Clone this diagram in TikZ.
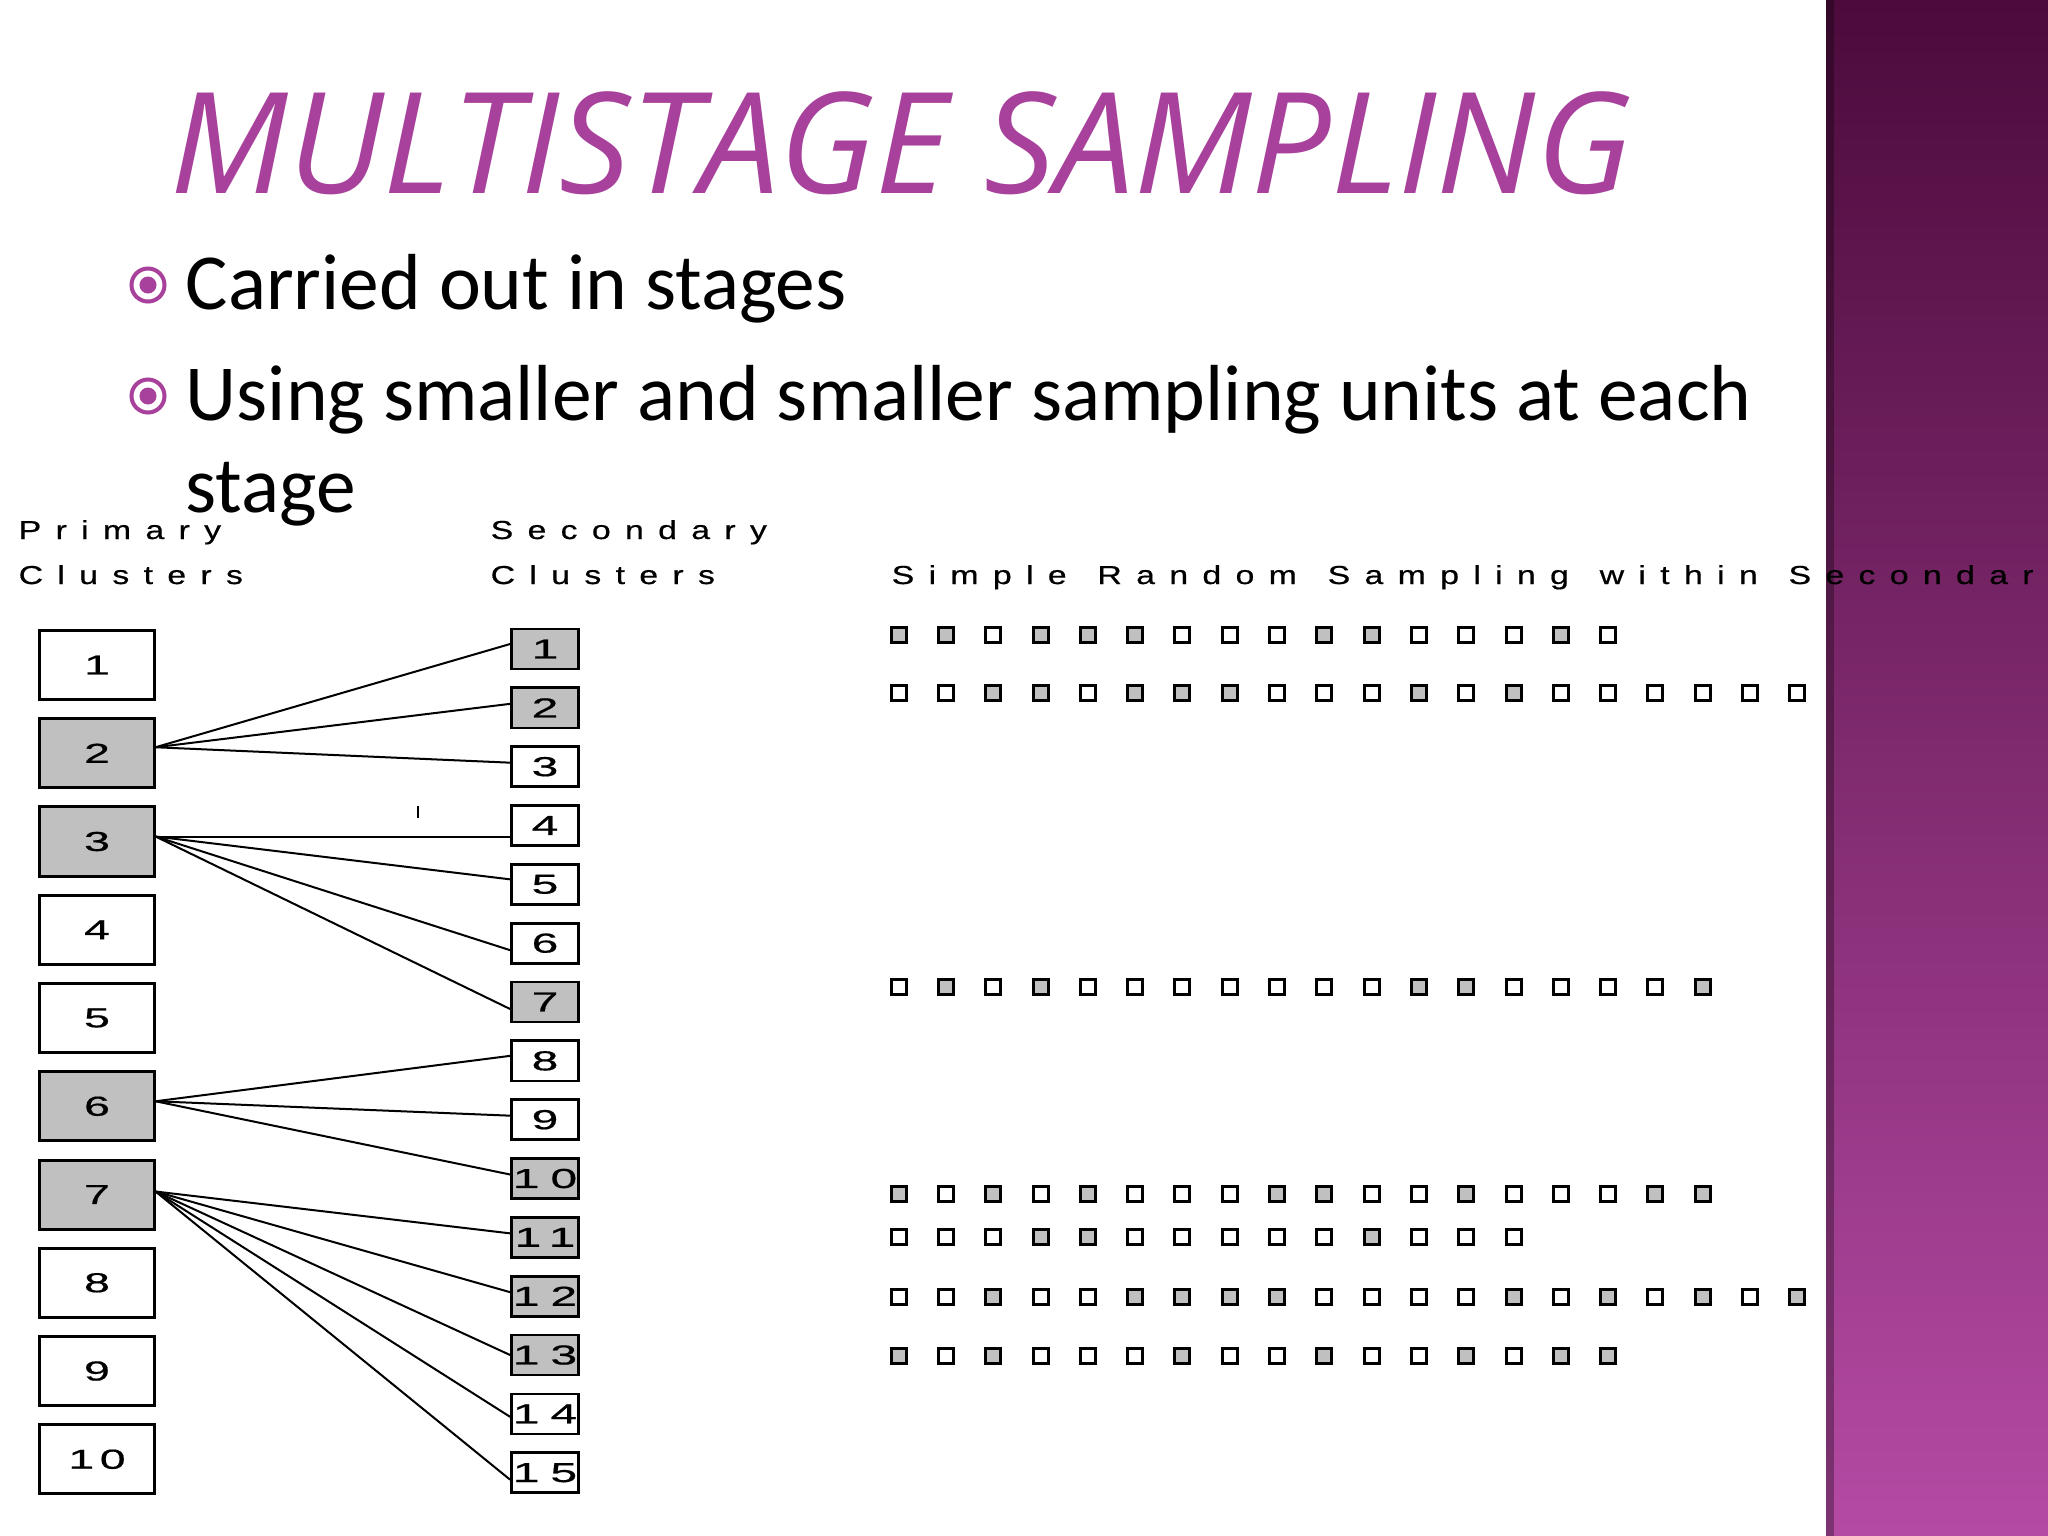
\documentclass[tikz,border=0pt]{standalone}
\usepackage{fontspec}
\setmainfont{Carlito}
\newfontfamily\titlefont{Open Sans}
\newfontfamily\labelfont[FakeStretch=1.3,LetterSpace=55,WordSpace=1.3,FakeBold=0.6]{Liberation Sans}
\newfontfamily\digitfont[FakeStretch=1.7,LetterSpace=20,FakeBold=0.6]{Liberation Sans}
\newfontfamily\widedigitfont[FakeStretch=1.75,LetterSpace=40,FakeBold=0.6]{Liberation Sans}
\usetikzlibrary{positioning}
\definecolor{slidepurple}{HTML}{A8419B}
\definecolor{bandtop}{HTML}{4C0B3C}
\definecolor{bandmid}{HTML}{7E2E70}
\definecolor{bandbot}{HTML}{B54AA4}
\definecolor{pickgrey}{HTML}{C0C0C0}

\begin{document}
\begin{tikzpicture}[x=0.01cm, y=-0.01cm, node distance={8.82mm},
    primbox/.style = {draw, line width=0.03cm, minimum width=1.14cm, minimum height=0.69cm, inner sep=0pt, font=\digitfont\fontsize{7.8pt}{9pt}\selectfont},
    secbox/.style = {draw, line width=0.027cm, minimum width=0.67cm, minimum height=0.40cm, inner sep=0pt, font=\widedigitfont\fontsize{7.8pt}{9pt}\selectfont},
    chosen/.style = {fill=pickgrey},
    link/.style = {line width=0.02cm},
    unit/.style = {draw, line width=0.03cm, minimum size=0.15cm, inner sep=0pt},
    u0/.style = {unit, fill=white},
    u1/.style = {unit, fill=pickgrey},
    head/.style = {anchor=base west, inner sep=0pt, font=\labelfont\fontsize{7.4pt}{9pt}\selectfont},
    bulletmark/.style = {circle, draw=slidepurple, line width=0.04cm, minimum size=0.33cm, inner sep=0pt,
        path picture={\fill[slidepurple] (path picture bounding box.center) circle (0.085cm);}},
    bullettext/.style = {anchor=base west, inner sep=0pt, align=left, font=\fontsize{22.6pt}{25.9pt}\selectfont}]
\path[use as bounding box] (0,0) rectangle (2048,1536);
\begin{scope}
\clip (0,0) rectangle (2048,1536);
\fill[white] (0,0) rectangle (2048,1536);
% side band
\shade[top color=bandtop, middle color=bandmid, bottom color=bandbot] (1826,0) rectangle (2048,1536);
\fill[black, opacity=0.3] (1826,0) rectangle (1834,1536);

% title and bullets
\node[anchor=base west, inner sep=0pt, text=slidepurple, font=\titlefont\itshape\fontsize{40pt}{44pt}\selectfont] (title) at (170,193) {MULTISTAGE SAMPLING};
\node[bulletmark] (b1) at (148,285) {};
\node[bullettext] (t1) at (185,309) {Carried out in stages};
\node[bulletmark] (b2) at (148,396) {};
% base of a two-line node is its last line
\node[bullettext] (t2) at (185,512) {Using smaller and smaller sampling units at each\\stage};

% headings
\node[head] (h1) at (18,539) {Primary};
\node[head] (h2) at (18,584) {Clusters};
\node[head] (h3) at (490,539) {Secondary};
\node[head] (h4) at (490,584) {Clusters};
\node[head] (h5) at (891,584) {Simple Random Sampling within Secondary};

% primary clusters
\node[primbox] (p1) at (97,665) {1};
\node[primbox, chosen] (p2) [below of=p1] {2};
\node[primbox, chosen] (p3) [below of=p2] {3};
\node[primbox] (p4) [below of=p3] {4};
\node[primbox] (p5) [below of=p4] {5};
\node[primbox, chosen] (p6) [below of=p5] {6};
\node[primbox, chosen] (p7) [below of=p6] {7};
\node[primbox] (p8) [below of=p7] {8};
\node[primbox] (p9) [below of=p8] {9};
\node[primbox] (p10) [below of=p9] {10};

% secondary clusters
\begin{scope}[node distance={5.88mm}]
\node[secbox, chosen] (s1) at (545,649) {1};
\node[secbox, chosen] (s2) [below of=s1] {2};
\node[secbox] (s3) [below of=s2] {3};
\node[secbox] (s4) [below of=s3] {4};
\node[secbox] (s5) [below of=s4] {5};
\node[secbox] (s6) [below of=s5] {6};
\node[secbox, chosen] (s7) [below of=s6] {7};
\node[secbox] (s8) [below of=s7] {8};
\node[secbox] (s9) [below of=s8] {9};
\node[secbox, chosen] (s10) [below of=s9] {10};
\node[secbox, chosen] (s11) [below of=s10] {11};
\node[secbox, chosen] (s12) [below of=s11] {12};
\node[secbox, chosen] (s13) [below of=s12] {13};
\node[secbox] (s14) [below of=s13] {14};
\node[secbox] (s15) [below of=s14] {15};
\end{scope}

% fan-out points, a little above the box middles
\coordinate (f2) at ([yshift=0.06cm]p2.east);
\coordinate (f3) at ([yshift=0.05cm]p3.east);
\coordinate (f6) at ([yshift=0.05cm]p6.east);
\coordinate (f7) at ([yshift=0.03cm]p7.east);
\draw[link] (f2) -- ([yshift=0.05cm]s1.west);
\draw[link] (f2) -- ([yshift=0.04cm]s2.west);
\draw[link] (f2) -- ([yshift=0.04cm]s3.west);
\draw[link] (f3) -- (f3 -| s4.west);
\draw[link] (f3) -- ([yshift=0.05cm]s5.west);
\draw[link] (f3) -- ([yshift=-0.07cm]s6.west);
\draw[link] (f3) -- ([yshift=-0.07cm]s7.west);
\draw[link] (f6) -- ([yshift=0.05cm]s8.west);
\draw[link] (f6) -- ([yshift=0.04cm]s9.west);
\draw[link] (f6) -- ([yshift=0.04cm]s10.west);
\draw[link] (f7) -- ([yshift=0.04cm]s11.west);
\draw[link] (f7) -- ([yshift=0.04cm]s12.west);
\draw[link] (f7) -- ([yshift=0.0cm]s13.west);
\draw[link] (f7) -- ([yshift=-0.03cm]s14.west);
\draw[link] (f7) -- ([yshift=-0.07cm]s15.west);
\draw[line width=0.025cm] (418,806) -- (418,818);

% sampled units
\foreach \r/\yy/\pat in {1/635/{1,1,0,1,1,1,0,0,0,1,1,0,0,0,1,0},
                         2/693/{0,0,1,1,0,1,1,1,0,0,0,1,0,1,0,0,0,0,0,0},
                         3/987/{0,1,0,1,0,0,0,0,0,0,0,1,1,0,0,0,0,1},
                         4/1194/{1,0,1,0,1,0,0,0,1,1,0,0,1,0,0,0,1,1},
                         5/1237/{0,0,0,1,1,0,0,0,0,0,1,0,0,0},
                         6/1297/{0,0,1,0,0,1,1,1,1,0,0,0,0,1,0,1,0,1,0,1},
                         7/1356/{1,0,1,0,0,0,1,0,0,1,0,0,1,0,1,1}}
  \foreach \f [count=\i] in \pat
    \node[u\f] (u\r-\i) at ({898.6+47.3*(\i-1)},\yy) {};
\end{scope}
\end{tikzpicture}
\end{document}
